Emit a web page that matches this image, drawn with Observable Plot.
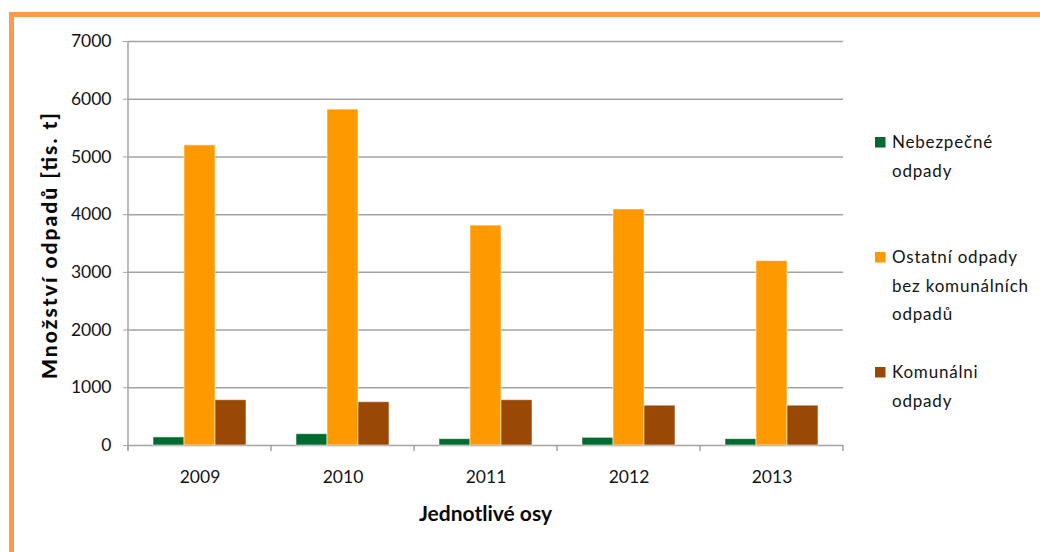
<!DOCTYPE html>
<html>
<head>
<meta charset="utf-8">
<script src="https://cdn.jsdelivr.net/npm/d3@7"></script>
<script src="https://cdn.jsdelivr.net/npm/@observablehq/plot@0.6"></script>
<style>
  html, body { margin: 0; padding: 0; background: #fff; overflow: hidden; }
  #wrap { position: relative; width: 1040px; height: 552px; }
  #border { position: absolute; left: 9px; top: 12px; width: 1100px; height: 700px;
            border: 5px solid #fb9a4b; box-sizing: border-box; }
  #chart { position: absolute; left: 0; top: 0; }
</style>
</head>
<body>
<div id="wrap">
  <div id="border"></div>
  <div id="chart"></div>
</div>
<script>
const years = ["2009", "2010", "2011", "2012", "2013"];
const series = ["Nebezpečné odpady", "Ostatní odpady bez komunálních odpadů", "Komunálni odpady"];
const nebezpecne = [140, 196, 110, 133, 110];
const ostatni = [5200, 5820, 3810, 4090, 3195];
const komunalni = [785, 750, 785, 690, 690];
const colors = ["#006a30", "#ff9900", "#9a4806"];
const yTicks = [0, 1000, 2000, 3000, 4000, 5000, 6000, 7000];
const legendLines = [["Nebezpečné", "odpady"], ["Ostatní odpady", "bez komunálních", "odpadů"], ["Komunálni", "odpady"]];
const yLabel = "Množství odpadů [tis. t]";
const xLabel = "Jednotlivé osy";

const valuesBySeries = [nebezpecne, ostatni, komunalni];
const data = [];
years.forEach((yr, i) => series.forEach((s, j) => data.push({year: yr, series: s, value: valuesBySeries[j][i]})));

const font = "Lato, 'Open Sans', sans-serif";
const chart = Plot.plot({
  width: 1040,
  height: 552,
  marginLeft: 126,
  marginRight: 195,
  marginTop: 41,
  marginBottom: 107,
  style: {fontFamily: font, fontSize: "17.5px", color: "#141414", background: "transparent"},
  fx: {domain: years, padding: 0, label: null},
  x: {domain: series, paddingInner: 0, paddingOuter: 0.78, axis: null},
  y: {domain: [0, 7000], label: null},
  color: {domain: series, range: colors},
  marks: [
    Plot.ruleY(yTicks, {stroke: "#a3a3a3", strokeWidth: 1.5}),
    Plot.barY(data, {fx: "year", x: "series", y: "value", fill: "series", stroke: "#ffffff", strokeOpacity: 0.55, strokeWidth: 1}),
    Plot.axisY({ticks: yTicks, tickSize: 5, tickPadding: 12, label: null, stroke: "#a3a3a3", tickFormat: d => String(d)}),
    Plot.axisFx({anchor: "bottom", tickSize: 0, tickPadding: 25, label: null})
  ]
});
document.getElementById("chart").appendChild(chart);

// Extra axis parts, legend and titles, placed from the library's scales
const svg = d3.select(chart);
const fx = chart.scale("fx");
const y = chart.scale("y");
const y0 = y.apply(0), yTop = y.apply(7000);
const left = fx.apply(years[0]);
const bounds = years.map(v => fx.apply(v)).concat([fx.apply(years[years.length - 1]) + fx.bandwidth]);

svg.append("line").attr("x1", left).attr("x2", left).attr("y1", yTop).attr("y2", y0 + 5)
  .attr("stroke", "#a3a3a3").attr("stroke-width", 1.5);
bounds.forEach(b => svg.append("line").attr("x1", b).attr("x2", b).attr("y1", y0).attr("y2", y0 + 6)
  .attr("stroke", "#a3a3a3").attr("stroke-width", 1.5));

svg.append("text").text(yLabel)
  .attr("transform", `translate(57,246) rotate(-90)`)
  .attr("text-anchor", "middle").attr("font-weight", 900).attr("font-size", 21)
  .attr("textLength", 266).attr("lengthAdjust", "spacing")
  .attr("font-family", font).attr("fill", "#0a0a0a");

svg.append("text").text(xLabel)
  .attr("x", (bounds[0] + bounds[bounds.length - 1]) / 2).attr("y", 521)
  .attr("text-anchor", "middle").attr("font-weight", "bold").attr("font-size", 21)
  .attr("font-family", font).attr("fill", "#0a0a0a");

const legendBase = [148, 263, 378];
const lg = svg.append("g").attr("font-family", font).attr("font-size", 17).attr("fill", "#141414")
  .attr("text-anchor", "start");
legendLines.forEach((lines, i) => {
  lg.append("rect").attr("x", 875).attr("y", legendBase[i] - 11).attr("width", 10.5).attr("height", 10.5)
    .attr("fill", colors[i]);
  lines.forEach((t, k) => {
    lg.append("text").text(t).attr("x", 892).attr("y", legendBase[i] + k * 28.5).attr("letter-spacing", 0.8);
  });
});
</script>
</body>
</html>
